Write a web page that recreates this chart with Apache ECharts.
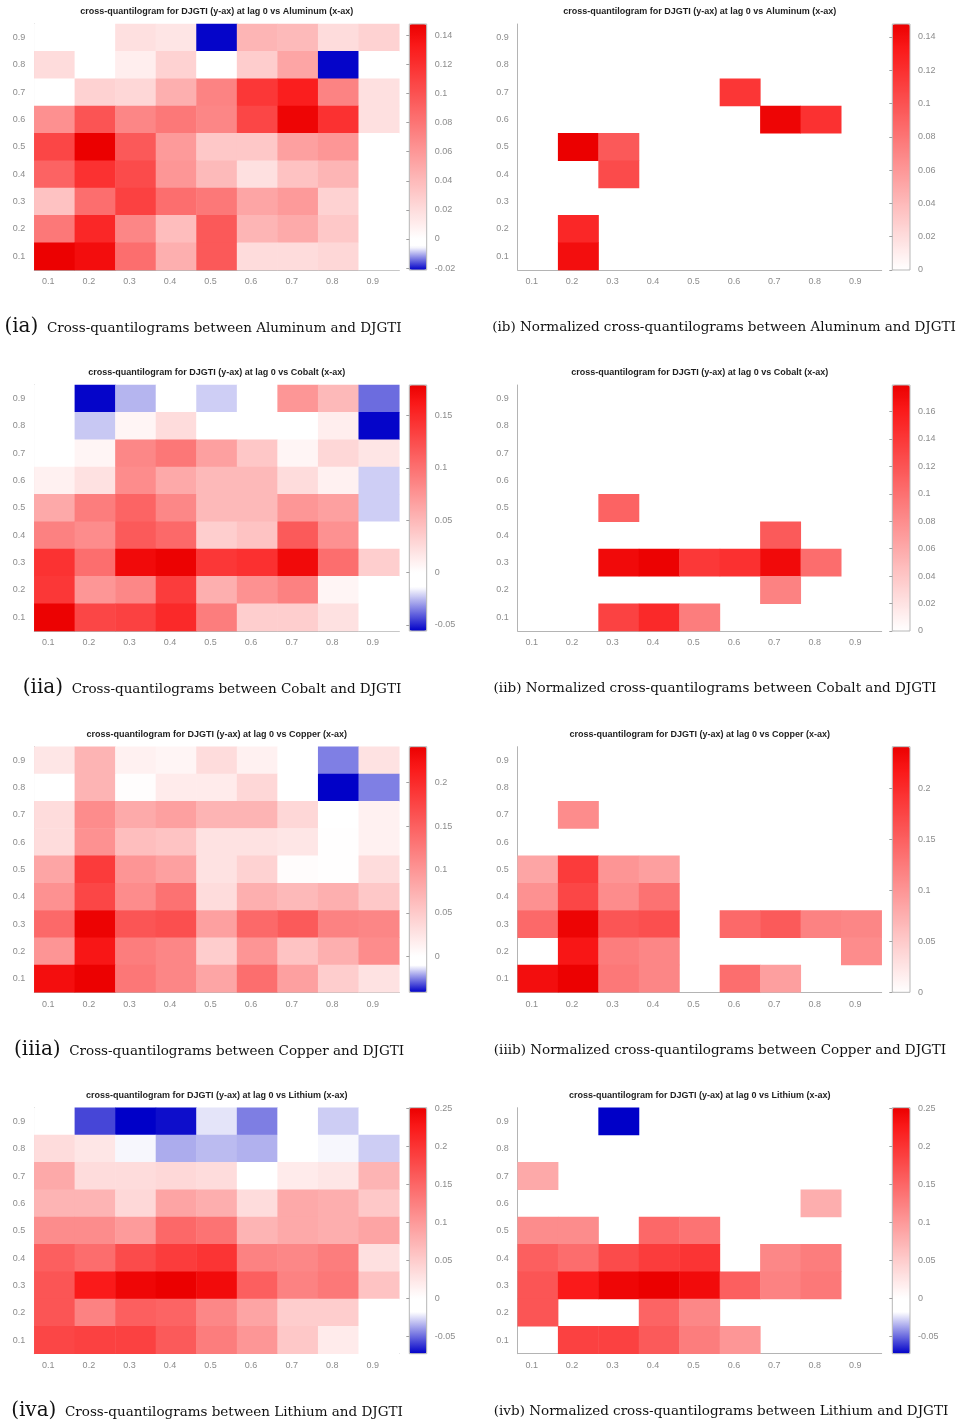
<!DOCTYPE html>
<html><head><meta charset="utf-8">
<script src="https://cdn.jsdelivr.net/npm/echarts@6/dist/echarts.min.js"></script>
<style>html,body{margin:0;padding:0;background:#fff}#c{width:959px;height:1422px}</style>
</head><body><div id="c"></div>
<script>
// ---------- DATA ----------
const quantiles = ['0.1','0.2','0.3','0.4','0.5','0.6','0.7','0.8','0.9'];

// rows listed from quantile 0.9 (top) down to 0.1 (bottom); columns 0.1 .. 0.9
const aluminumCQ = [
  [0.000, 0.000, 0.018, 0.015, -0.021, 0.043, 0.040, 0.020, 0.026],
  [0.020, 0.000, 0.010, 0.026, 0.000, 0.029, 0.052, -0.021, 0.000],
  [0.000, 0.026, 0.023, 0.046, 0.072, 0.116, 0.130, 0.072, 0.018],
  [0.064, 0.099, 0.070, 0.078, 0.070, 0.107, 0.145, 0.119, 0.018],
  [0.107, 0.148, 0.096, 0.058, 0.032, 0.032, 0.055, 0.061, 0.000],
  [0.090, 0.119, 0.104, 0.061, 0.040, 0.018, 0.035, 0.043, 0.000],
  [0.035, 0.084, 0.110, 0.084, 0.078, 0.052, 0.058, 0.026, 0.000],
  [0.078, 0.125, 0.070, 0.038, 0.096, 0.043, 0.049, 0.032, 0.000],
  [0.147, 0.140, 0.084, 0.046, 0.096, 0.020, 0.020, 0.023, 0.000]
];
const aluminumSig = [
  [0,0,0,0,0,0,0,0,0],
  [0,0,0,0,0,0,0,0,0],
  [0,0,0,0,0,1,0,0,0],
  [0,0,0,0,0,0,1,1,0],
  [0,1,1,0,0,0,0,0,0],
  [0,0,1,0,0,0,0,0,0],
  [0,0,0,0,0,0,0,0,0],
  [0,1,0,0,0,0,0,0,0],
  [0,1,0,0,0,0,0,0,0]
];
const cobaltCQ = [
  [0.000, -0.055, -0.026, 0.000, -0.022, 0.000, 0.074, 0.049, -0.038],
  [0.000, -0.023, 0.007, 0.025, 0.000, 0.000, 0.000, 0.012, -0.055],
  [0.000, 0.007, 0.084, 0.095, 0.067, 0.039, 0.007, 0.028, 0.018],
  [0.010, 0.021, 0.081, 0.060, 0.049, 0.049, 0.025, 0.010, -0.022],
  [0.060, 0.091, 0.109, 0.084, 0.049, 0.049, 0.074, 0.067, -0.022],
  [0.088, 0.081, 0.116, 0.105, 0.035, 0.042, 0.116, 0.077, 0.000],
  [0.144, 0.102, 0.172, 0.178, 0.140, 0.145, 0.172, 0.102, 0.035],
  [0.140, 0.074, 0.084, 0.137, 0.056, 0.077, 0.088, 0.007, 0.000],
  [0.178, 0.130, 0.133, 0.150, 0.091, 0.035, 0.035, 0.021, 0.000]
];
const cobaltSig = [
  [0,0,0,0,0,0,0,0,0],
  [0,0,0,0,0,0,0,0,0],
  [0,0,0,0,0,0,0,0,0],
  [0,0,0,0,0,0,0,0,0],
  [0,0,1,0,0,0,0,0,0],
  [0,0,0,0,0,0,1,0,0],
  [0,0,1,1,1,1,1,1,0],
  [0,0,0,0,0,0,1,0,0],
  [0,0,1,1,1,0,0,0,0]
];
const copperCQ = [
  [0.024, 0.071, 0.014, 0.010, 0.033, 0.014, 0.000, -0.026, 0.028],
  [0.000, 0.071, 0.002, 0.019, 0.019, 0.038, 0.000, -0.0414, -0.026],
  [0.033, 0.109, 0.080, 0.090, 0.071, 0.071, 0.038, 0.000, 0.014],
  [0.033, 0.104, 0.062, 0.057, 0.028, 0.028, 0.024, 0.001, 0.014],
  [0.085, 0.185, 0.100, 0.090, 0.028, 0.043, 0.003, 0.001, 0.033],
  [0.104, 0.175, 0.109, 0.133, 0.033, 0.076, 0.066, 0.076, 0.052],
  [0.142, 0.238, 0.161, 0.166, 0.090, 0.142, 0.156, 0.118, 0.114],
  [0.100, 0.220, 0.123, 0.114, 0.047, 0.100, 0.057, 0.076, 0.109],
  [0.228, 0.240, 0.128, 0.114, 0.085, 0.137, 0.090, 0.047, 0.028]
];
const copperSig = [
  [0,0,0,0,0,0,0,0,0],
  [0,0,0,0,0,0,0,0,0],
  [0,1,0,0,0,0,0,0,0],
  [0,0,0,0,0,0,0,0,0],
  [1,1,1,1,0,0,0,0,0],
  [1,1,1,1,0,0,0,0,0],
  [1,1,1,1,0,1,1,1,1],
  [0,1,1,1,0,0,0,0,1],
  [1,1,1,1,0,1,1,0,0]
];
const lithiumCQ = [
  [0.000, -0.058, -0.073, -0.070, -0.024, -0.046, 0.000, -0.029, 0.000],
  [0.034, 0.025, -0.020, -0.036, -0.033, -0.035, 0.000, -0.020, -0.029],
  [0.084, 0.034, 0.034, 0.039, 0.034, 0.000, 0.020, 0.025, 0.074],
  [0.074, 0.074, 0.039, 0.089, 0.079, 0.034, 0.084, 0.079, 0.054],
  [0.113, 0.113, 0.098, 0.148, 0.138, 0.074, 0.084, 0.079, 0.089],
  [0.157, 0.143, 0.177, 0.192, 0.200, 0.123, 0.118, 0.128, 0.030],
  [0.167, 0.225, 0.245, 0.251, 0.240, 0.157, 0.123, 0.133, 0.059],
  [0.167, 0.123, 0.157, 0.152, 0.118, 0.089, 0.049, 0.049, 0.000],
  [0.182, 0.187, 0.187, 0.162, 0.128, 0.103, 0.054, 0.020, 0.000]
];
const lithiumSig = [
  [0,0,1,0,0,0,0,0,0],
  [0,0,0,0,0,0,0,0,0],
  [1,0,0,0,0,0,0,0,0],
  [0,0,0,0,0,0,0,1,0],
  [1,1,0,1,1,0,0,0,0],
  [1,1,1,1,1,0,1,1,0],
  [1,1,1,1,1,1,1,1,0],
  [1,0,0,1,1,0,0,0,0],
  [0,1,1,1,1,1,0,0,0]
];

// colour-bar ranges [min, max]
const aluminumRange = [-0.0213, 0.1478];
const aluminumNormRange = [0, 0.1478];
const cobaltRange = [-0.0558, 0.1793];
const cobaltNormRange = [0, 0.1793];
const copperRange = [-0.0415, 0.2415];
const copperNormRange = [0, 0.2412];
const lithiumRange = [-0.0731, 0.2512];
const lithiumNormRange = [-0.0731, 0.2512];

// colour-bar tick labels
const aluminumTicks = [-0.02, 0, 0.02, 0.04, 0.06, 0.08, 0.1, 0.12, 0.14];
const aluminumNormTicks = [0, 0.02, 0.04, 0.06, 0.08, 0.1, 0.12, 0.14];
const cobaltTicks = [-0.05, 0, 0.05, 0.1, 0.15];
const cobaltNormTicks = [0, 0.02, 0.04, 0.06, 0.08, 0.1, 0.12, 0.14, 0.16];
const copperTicks = [0, 0.05, 0.1, 0.15, 0.2];
const copperNormTicks = [0, 0.05, 0.1, 0.15, 0.2];
const lithiumTicks = [-0.05, 0, 0.05, 0.1, 0.15, 0.2, 0.25];
const lithiumNormTicks = [-0.05, 0, 0.05, 0.1, 0.15, 0.2, 0.25];

const titles = [
  'cross-quantilogram for DJGTI (y-ax) at lag 0 vs Aluminum (x-ax)',
  'cross-quantilogram for DJGTI (y-ax) at lag 0 vs Cobalt (x-ax)',
  'cross-quantilogram for DJGTI (y-ax) at lag 0 vs Copper (x-ax)',
  'cross-quantilogram for DJGTI (y-ax) at lag 0 vs Lithium (x-ax)'
];
const leftTags = ['(ia)', '(iia)', '(iiia)', '(iva)'];
const leftCaptions = [
  'Cross-quantilograms between Aluminum and DJGTI',
  'Cross-quantilograms between Cobalt and DJGTI',
  'Cross-quantilograms between Copper and DJGTI',
  'Cross-quantilograms between Lithium and DJGTI'
];
const rightCaptions = [
  '(ib) Normalized cross-quantilograms between Aluminum and DJGTI',
  '(iib) Normalized cross-quantilograms between Cobalt and DJGTI',
  '(iiib) Normalized cross-quantilograms between Copper and DJGTI',
  '(ivb) Normalized cross-quantilograms between Lithium and DJGTI'
];

// ---------- LAYOUT ----------
const colGeom = [
  {plotL: 34.3, plotW: 365, barL: 409.3, barW: 17.4},
  {plotL: 517.7, plotW: 364, barL: 892.3, barW: 17.7}
];
const rowGeom = [
  {top: 24, h: 246, cap: 327},
  {top: 385, h: 246, cap: 688},
  {top: 746.7, h: 245.6, cap: 1050},
  {top: 1107.7, h: 246, cap: 1411}
];
const leftCapX = [203, 212, 209, 207];
const rightCapX = [724, 715, 720, 721];

const panels = [
  {vals: aluminumCQ, sig: null, range: aluminumRange, ticks: aluminumTicks, row: 0, col: 0},
  {vals: aluminumCQ, sig: aluminumSig, range: aluminumNormRange, ticks: aluminumNormTicks, row: 0, col: 1},
  {vals: cobaltCQ, sig: null, range: cobaltRange, ticks: cobaltTicks, row: 1, col: 0},
  {vals: cobaltCQ, sig: cobaltSig, range: cobaltNormRange, ticks: cobaltNormTicks, row: 1, col: 1},
  {vals: copperCQ, sig: null, range: copperRange, ticks: copperTicks, row: 2, col: 0},
  {vals: copperCQ, sig: copperSig, range: copperNormRange, ticks: copperNormTicks, row: 2, col: 1},
  {vals: lithiumCQ, sig: null, range: lithiumRange, ticks: lithiumTicks, row: 3, col: 0},
  {vals: lithiumCQ, sig: lithiumSig, range: lithiumNormRange, ticks: lithiumNormTicks, row: 3, col: 1}
];

// ---------- COLOUR MAP ----------
function colorAt(v, min, max) {
  let r, g, b;
  if (v >= 0) {
    const f = max > 0 ? Math.min(v / max, 1) : 0;
    if (f <= 0.9) { const t = f / 0.9; r = 255 - 5 * t; g = b = 255 - 230 * t; }
    else { const t = (f - 0.9) / 0.1; r = 250 - 15 * t; g = b = 25 - 25 * t; }
  } else {
    const q = min < 0 ? Math.min(v / min, 1) : 0;
    if (q < 0.25) { r = g = b = 255; }
    else { const t = (q - 0.25) / 0.75; r = g = 255 * (1 - t); b = 255 - 55 * t; }
  }
  return 'rgb(' + Math.round(r) + ',' + Math.round(g) + ',' + Math.round(b) + ')';
}
function colorList(min, max) {
  const n = 200, out = [];
  for (let i = 0; i <= n; i++) out.push(colorAt(min + (max - min) * i / n, min, max));
  return out;
}

// ---------- OPTION ----------
const FONT = 'Liberation Sans, Arial, sans-serif';
const grid = [], xAxis = [], yAxis = [], series = [], visualMap = [], graphic = [];

panels.forEach((p, i) => {
  const cg = colGeom[p.col], rg = rowGeom[p.row];
  grid.push({left: cg.plotL, top: rg.top, width: cg.plotW, height: rg.h, containLabel: false});
  xAxis.push({
    type: 'category', gridIndex: i, data: quantiles, boundaryGap: true,
    axisLine: {lineStyle: {color: '#b4b4b4', width: 1}},
    axisTick: {alignWithLabel: true, length: 3, lineStyle: {color: '#b4b4b4'}},
    axisLabel: {color: '#8c8c8c', fontSize: 9, fontFamily: FONT, align: 'right', margin: 7.5},
    splitLine: {show: false}
  });
  yAxis.push({
    type: 'category', gridIndex: i, data: quantiles, boundaryGap: true,
    axisLine: {lineStyle: {color: '#b4b4b4', width: 1}},
    axisTick: {alignWithLabel: true, length: 3.5, lineStyle: {color: '#b4b4b4'}},
    axisLabel: {color: '#8c8c8c', fontSize: 9, fontFamily: FONT, margin: 9},
    splitLine: {show: false}
  });
  const data = [];
  p.vals.forEach((rowVals, r) => {
    rowVals.forEach((v, c) => {
      if (p.sig && !p.sig[r][c]) return;
      data.push([c, 8 - r, v]);
    });
  });
  series.push({
    type: 'heatmap', xAxisIndex: i, yAxisIndex: i, data: data,
    itemStyle: {borderWidth: 0}, emphasis: {disabled: true}, silent: true
  });
  visualMap.push({
    type: 'continuous', seriesIndex: i, min: p.range[0], max: p.range[1],
    inRange: {color: colorList(p.range[0], p.range[1])},
    left: cg.barL, top: rg.top, itemWidth: cg.barW, itemHeight: rg.h,
    orient: 'vertical', calculable: false, padding: 0, text: null, hoverLink: false
  });
});

// colour-bar axes (grid index 8..15)
panels.forEach((p, i) => {
  const cg = colGeom[p.col], rg = rowGeom[p.row];
  const gi = 8 + i;
  grid.push({left: cg.barL, top: rg.top, width: cg.barW, height: rg.h, show: true,
    borderColor: '#b8b8b8', borderWidth: 1, backgroundColor: 'transparent', z: 10});
  xAxis.push({type: 'value', gridIndex: gi, show: false, min: 0, max: 1});
  yAxis.push({
    type: 'value', gridIndex: gi, min: p.range[0], max: p.range[1], position: 'right', z: 10,
    axisLine: {show: false},
    axisTick: {show: true, inside: true, length: 3, lineStyle: {color: '#a0a0a0'}, customValues: p.ticks},
    axisLabel: {color: '#8c8c8c', fontSize: 9, fontFamily: FONT, margin: 8, customValues: p.ticks,
      formatter: v => String(v)},
    splitLine: {show: false}
  });
});

// titles and captions
rowGeom.forEach((rg, r) => {
  colGeom.forEach(cg => {
    graphic.push({type: 'text', x: cg.plotL + cg.plotW / 2, y: rg.top - 12.5, silent: true,
      style: {text: titles[r], align: 'center', verticalAlign: 'middle', fill: '#1e1e1e',
        fontSize: 9, fontWeight: 'bold', fontFamily: FONT}});
  });
  graphic.push({type: 'text', x: leftCapX[r], y: rg.cap, silent: true,
    style: {text: '{tag|' + leftTags[r] + '}{body|  ' + leftCaptions[r] + '}', align: 'center', verticalAlign: 'middle',
      rich: {
        tag: {fontSize: 20, fontFamily: 'DejaVu Serif', fill: '#111', verticalAlign: 'bottom'},
        body: {fontSize: 13.5, fontFamily: 'DejaVu Serif', fill: '#111', verticalAlign: 'bottom', padding: [0, 0, 2, 0]}
      }}});
  graphic.push({type: 'text', x: rightCapX[r], y: rg.cap, silent: true,
    style: {text: rightCaptions[r], align: 'center', verticalAlign: 'middle',
      fontSize: 13.5, fontFamily: 'DejaVu Serif', fill: '#111'}});
});

const chart = echarts.init(document.getElementById('c'), null, {renderer: 'canvas'});
chart.setOption({
  animation: false,
  backgroundColor: '#ffffff',
  grid, xAxis, yAxis, series, visualMap, graphic
});
</script>
</body></html>
